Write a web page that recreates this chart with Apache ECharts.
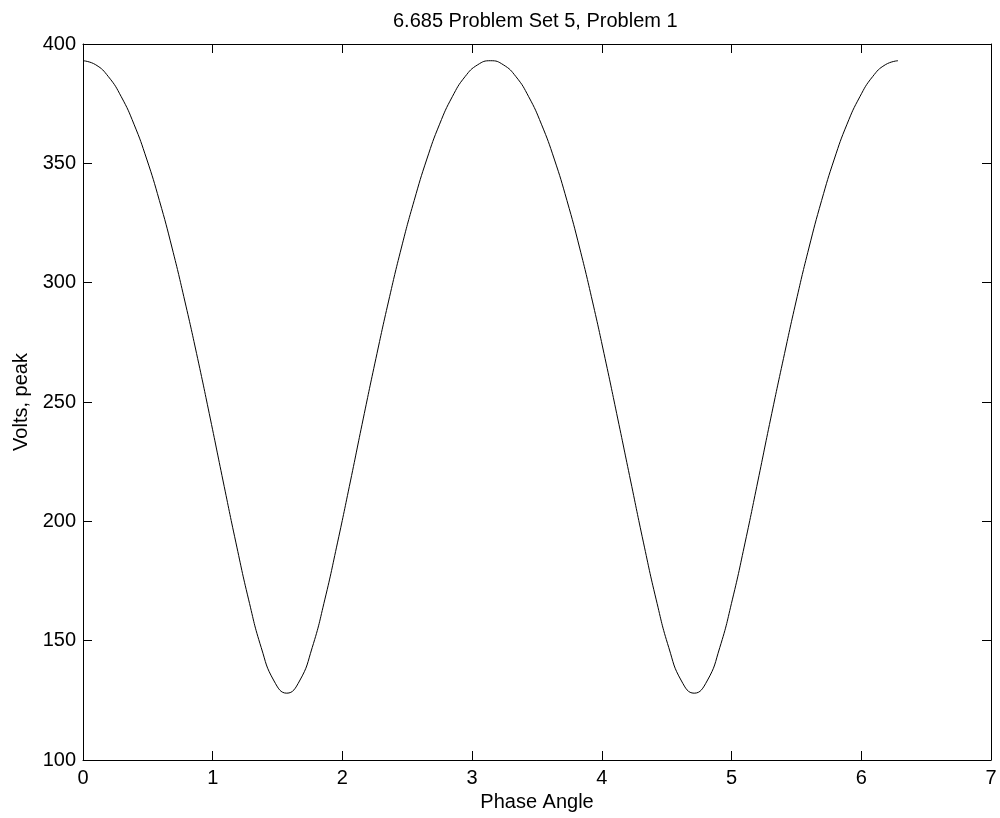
<!DOCTYPE html>
<html>
<head>
<meta charset="utf-8">
<title>6.685 Problem Set 5, Problem 1</title>
<script src="https://cdn.jsdelivr.net/npm/echarts@6/dist/echarts.min.js"></script>
<style>
  html, body { margin: 0; padding: 0; background: #fff; }
  #voltChart { width: 1000px; height: 818px; }
</style>
</head>
<body>
<div id="voltChart"></div>
<script>
// 读图得到的数据 (phase angle in rad, volts peak)
var phaseAngle = [
  0, 0.098, 0.196, 0.295, 0.393, 0.491, 0.589, 0.687, 0.785, 0.884, 0.982, 1.080, 1.178, 1.276, 1.374, 1.473,
  1.571, 1.669, 1.767, 1.865, 1.963, 2.062, 2.160, 2.258, 2.356, 2.454, 2.553, 2.651, 2.749, 2.847, 2.945, 3.043,
  3.142, 3.240, 3.338, 3.436, 3.534, 3.633, 3.731, 3.829, 3.927, 4.025, 4.123, 4.222, 4.320, 4.418, 4.516, 4.614,
  4.712, 4.811, 4.909, 5.007, 5.105, 5.203, 5.301, 5.400, 5.498, 5.596, 5.694, 5.792, 5.890, 5.989, 6.087, 6.185,
  6.283
]
var voltsPeak = [
  393, 391.3, 386.3, 377.9, 366.4, 351.8, 334.4, 314.5, 292.3, 268.2, 242.9, 216.9, 191.3, 167.4, 147.1, 133.1,
  128, 133.1, 147.1, 167.4, 191.3, 216.9, 242.9, 268.2, 292.3, 314.5, 334.4, 351.8, 366.4, 377.9, 386.3, 391.3,
  393, 391.3, 386.3, 377.9, 366.4, 351.8, 334.4, 314.5, 292.3, 268.2, 242.9, 216.9, 191.3, 167.4, 147.1, 133.1,
  128, 133.1, 147.1, 167.4, 191.3, 216.9, 242.9, 268.2, 292.3, 314.5, 334.4, 351.8, 366.4, 377.9, 386.3, 391.3,
  393
]
var xTicks = { min: 0, max: 7, step: 1 }
var yTicks = { min: 100, max: 400, step: 50 }

var chartTitle = '6.685 Problem Set 5, Problem 1'
var xName = 'Phase Angle'
var yName = 'Volts, peak'

var fontName = '"Liberation Sans", Arial, Helvetica, sans-serif'

function pairs (xs, ys) {
  let arr = []
  xs.forEach((x, i) => {
    arr.push([x, ys[i]])
  })
  return arr
}

// 坐标轴 (matlab 风格, 四边框, 刻度朝内)
function makeAxis (ticks, opts) {
  return Object.assign({
    type: 'value',
    min: ticks.min,
    max: ticks.max,
    interval: ticks.step,
    splitLine: { show: false },
    axisLine: { show: true, onZero: false, lineStyle: { color: '#000', width: 1 } },
    axisTick: { show: true, inside: true, length: 9, lineStyle: { color: '#000', width: 1 } },
    axisLabel: {
      show: true,
      color: '#000',
      fontFamily: fontName,
      fontSize: 20,
      showMinLabel: true,
      showMaxLabel: true
    }
  }, opts)
}

var chart = echarts.init(document.getElementById('voltChart'))

chart.setOption({
  animation: false,
  backgroundColor: '#fff',
  title: {
    text: chartTitle,
    left: 393,
    top: 11,
    padding: 0,
    textStyle: {
      color: '#000',
      fontFamily: fontName,
      fontSize: 20,
      fontWeight: 'normal'
    }
  },
  grid: {
    left: 83,
    right: 9,
    top: 44,
    bottom: 58
  },
  xAxis: [
    makeAxis(xTicks, {
      position: 'bottom',
      name: xName,
      nameLocation: 'middle',
      nameGap: 32,
      nameTextStyle: { color: '#000', fontFamily: fontName, fontSize: 20 },
      axisLabel: { show: true, color: '#000', fontFamily: fontName, fontSize: 20, margin: 8 }
    }),
    makeAxis(xTicks, {
      position: 'top',
      axisLabel: { show: false }
    })
  ],
  yAxis: [
    makeAxis(yTicks, {
      position: 'left',
      name: yName,
      nameLocation: 'middle',
      nameGap: 49,
      nameTextStyle: { color: '#000', fontFamily: fontName, fontSize: 20 },
      axisLabel: { show: true, color: '#000', fontFamily: fontName, fontSize: 20, margin: 7 }
    }),
    makeAxis(yTicks, {
      position: 'right',
      axisLabel: { show: false }
    })
  ],
  series: [
    {
      name: yName,
      type: 'line',
      xAxisIndex: 0,
      yAxisIndex: 0,
      showSymbol: false,
      smooth: 0.5,
      lineStyle: { color: '#000', width: 1 },
      data: pairs(phaseAngle, voltsPeak)
    }
  ]
})
</script>
</body>
</html>
